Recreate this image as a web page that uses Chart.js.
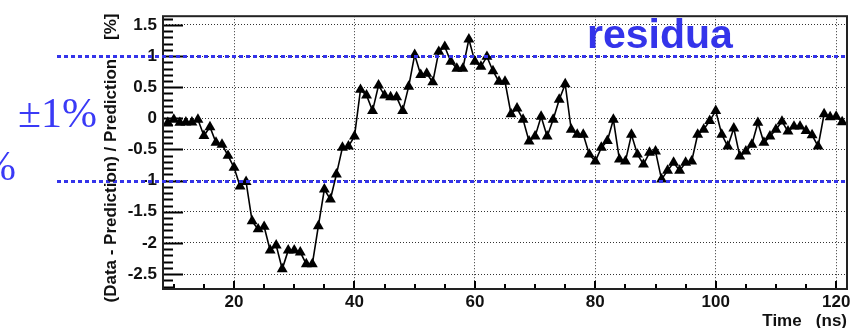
<!DOCTYPE html>
<html>
<head>
<meta charset="utf-8">
<script src="https://cdn.jsdelivr.net/npm/chart.js@4/dist/chart.umd.min.js"></script>
<style>
    html, body { margin: 0; padding: 0; background: #fff; }
    #residua { display: block; }
</style>
</head>
<body>
<canvas id="residua" width="861" height="328"></canvas>
<script>
// Data -----------------------------------------------------------------------------------

const times = [
    9, 10, 11, 12, 13, 14, 15, 16, 17, 18, 19, 20, 21, 22, 23, 24, 25, 26, 27, 28,
    29, 30, 31, 32, 33, 34, 35, 36, 37, 38, 39, 40, 41, 42, 43, 44, 45, 46, 47, 48,
    49, 50, 51, 52, 53, 54, 55, 56, 57, 58, 59, 60, 61, 62, 63, 64, 65, 66, 67, 68,
    69, 70, 71, 72, 73, 74, 75, 76, 77, 78, 79, 80, 81, 82, 83, 84, 85, 86, 87, 88,
    89, 90, 91, 92, 93, 94, 95, 96, 97, 98, 99, 100, 101, 102, 103, 104, 105, 106, 107, 108,
    109, 110, 111, 112, 113, 114, 115, 116, 117, 118, 119, 120, 121
];

const residuals = [
    -0.07, -0.02, -0.07, -0.065, -0.065, -0.02, -0.28, -0.14, -0.39, -0.42, -0.60, -0.79, -1.09, -1.02, -1.65, -1.78, -1.74, -2.12, -2.04, -2.42,
    -2.12, -2.12, -2.15, -2.34, -2.34, -1.73, -1.14, -1.30, -0.90, -0.47, -0.45, -0.29, 0.46, 0.37, 0.12, 0.53, 0.37, 0.34, 0.34, 0.12,
    0.51, 1.02, 0.70, 0.72, 0.58, 1.07, 1.15, 0.91, 0.80, 0.80, 1.27, 0.91, 0.83, 0.99, 0.76, 0.59, 0.59, 0.07, 0.16, -0.02,
    -0.37, -0.29, 0.03, -0.29, -0.02, 0.30, 0.55, -0.18, -0.26, -0.26, -0.58, -0.69, -0.47, -0.36, -0.02, -0.66, -0.69, -0.26, -0.58, -0.74,
    -0.55, -0.53, -0.98, -0.84, -0.71, -0.84, -0.71, -0.69, -0.26, -0.18, -0.04, 0.12, -0.26, -0.45, -0.16, -0.61, -0.53, -0.42, -0.07, -0.39,
    -0.29, -0.18, -0.05, -0.21, -0.13, -0.13, -0.20, -0.27, -0.45, 0.07, 0.02, 0.03, -0.06
];

const xTickValues = [20, 40, 60, 80, 100, 120];
const yTickValues = [-2.5, -2, -1.5, -1, -0.5, 0, 0.5, 1, 1.5];
const bandLimits = [1, -1];

// Constants ------------------------------------------------------------------------------

const SANS = '"Liberation Sans", Arial, sans-serif';
const TITLE_FONT = 'bold 17px ' + SANS;
const BLUE = '#3434ea';

// Drawing helpers ------------------------------------------------------------------------

let drawTicks = function (ctx, chart) {
    let area = chart.chartArea;
    let xs = chart.scales.x;
    let ys = chart.scales.y;

    ctx.strokeStyle = '#000';
    ctx.lineWidth = 2;
    ctx.beginPath();

    // y axis: minor every 0.1, major every 0.5
    for (let i = -27; i <= 16; i++) {
        let py = Math.round(ys.getPixelForValue(i / 10)) + 0.5;
        let len = (i % 5 === 0) ? 20 : 10;
        ctx.moveTo(area.left, py);
        ctx.lineTo(area.left + len, py);
    }

    // x axis: minor every 5, major every 20
    for (let t = 10; t <= 120; t += 5) {
        let px = Math.round(xs.getPixelForValue(t));
        let len = (t % 20 === 0) ? 8 : 5;
        ctx.moveTo(px, area.bottom);
        ctx.lineTo(px, area.bottom - len);
    }
    ctx.stroke();

    ctx.strokeStyle = '#222';
    ctx.strokeRect(area.left, area.top, area.right - area.left, area.bottom - area.top);
};

let drawBands = function (ctx, chart) {
    let area = chart.chartArea;
    let ys = chart.scales.y;

    ctx.save();
    ctx.strokeStyle = BLUE;
    ctx.lineWidth = 3;
    ctx.setLineDash([4, 3]);
    bandLimits.forEach(function (v) {
        let py = Math.round(ys.getPixelForValue(v)) + 0.5;
        ctx.beginPath();
        ctx.moveTo(57, py);
        ctx.lineTo(area.right, py);
        ctx.stroke();
    });
    ctx.restore();
};

let drawTexts = function (ctx, chart) {
    let area = chart.chartArea;

    ctx.save();
    ctx.fillStyle = '#3a3af6';
    ctx.font = '42px "Liberation Serif", "Times New Roman", serif';
    ctx.textAlign = 'left';
    ctx.textBaseline = 'alphabetic';
    ctx.fillText('\u00b11%', 18, 127);
    ctx.textAlign = 'right';
    ctx.fillText('%', 16, 180);

    ctx.fillStyle = BLUE;
    ctx.font = 'bold 41px ' + SANS;
    ctx.textAlign = 'left';
    ctx.fillText('residua', 587, 48);

    ctx.fillStyle = '#111';
    ctx.font = TITLE_FONT;
    ctx.textAlign = 'right';
    ctx.fillText('Time   (ns)', area.right, 326);

    ctx.translate(116, 158);
    ctx.rotate(-Math.PI / 2);
    ctx.textAlign = 'center';
    ctx.fillText('(Data - Prediction) / Prediction    [%]', 0, 0);
    ctx.restore();
};

const frame = {
    id: 'rootFrame',
    afterDatasetsDraw: function (chart) {
        let ctx = chart.ctx;
        drawTicks(ctx, chart);
        drawBands(ctx, chart);
        drawTexts(ctx, chart);
    }
};

// Chart ----------------------------------------------------------------------------------

let points = times.map(function (t, i) {
    return { x: t, y: residuals[i] };
});

let tickFont = { family: SANS, size: 17, weight: 'bold' };

new Chart(document.getElementById('residua').getContext('2d'), {
    type: 'scatter',
    data: {
        datasets: [{
            label: 'residua',
            data: points,
            showLine: true,
            borderColor: '#000',
            borderWidth: 1.6,
            pointStyle: 'triangle',
            pointRadius: 6.3,
            pointBackgroundColor: '#000',
            pointBorderColor: '#000',
            pointBorderWidth: 0,
            clip: false
        }]
    },
    options: {
        responsive: false,
        animation: false,
        events: [],
        layout: { padding: { top: 14, right: 14, left: 0, bottom: 0 } },
        plugins: {
            legend: { display: false },
            tooltip: { enabled: false }
        },
        scales: {
            x: {
                type: 'linear',
                min: 8.2,
                max: 121.8,
                afterBuildTicks: function (scale) {
                    scale.ticks = xTickValues.map(function (v) { return { value: v }; });
                },
                afterFit: function (scale) { scale.height = 39; },
                ticks: {
                    autoSkip: false,
                    maxRotation: 0,
                    padding: 3,
                    color: '#111',
                    font: tickFont,
                    callback: function (v) { return String(v); }
                },
                grid: { color: '#333', lineWidth: 1, drawTicks: false },
                border: { display: false, dash: [1, 2] }
            },
            y: {
                min: -2.74,
                max: 1.64,
                afterBuildTicks: function (scale) {
                    scale.ticks = yTickValues.map(function (v) { return { value: v }; });
                },
                afterFit: function (scale) { scale.width = 163; },
                ticks: {
                    padding: 6,
                    color: '#111',
                    font: tickFont,
                    callback: function (v) { return String(v); }
                },
                grid: { color: '#333', lineWidth: 1, drawTicks: false },
                border: { display: false, dash: [1, 2] }
            }
        }
    },
    plugins: [frame]
});
</script>
</body>
</html>
